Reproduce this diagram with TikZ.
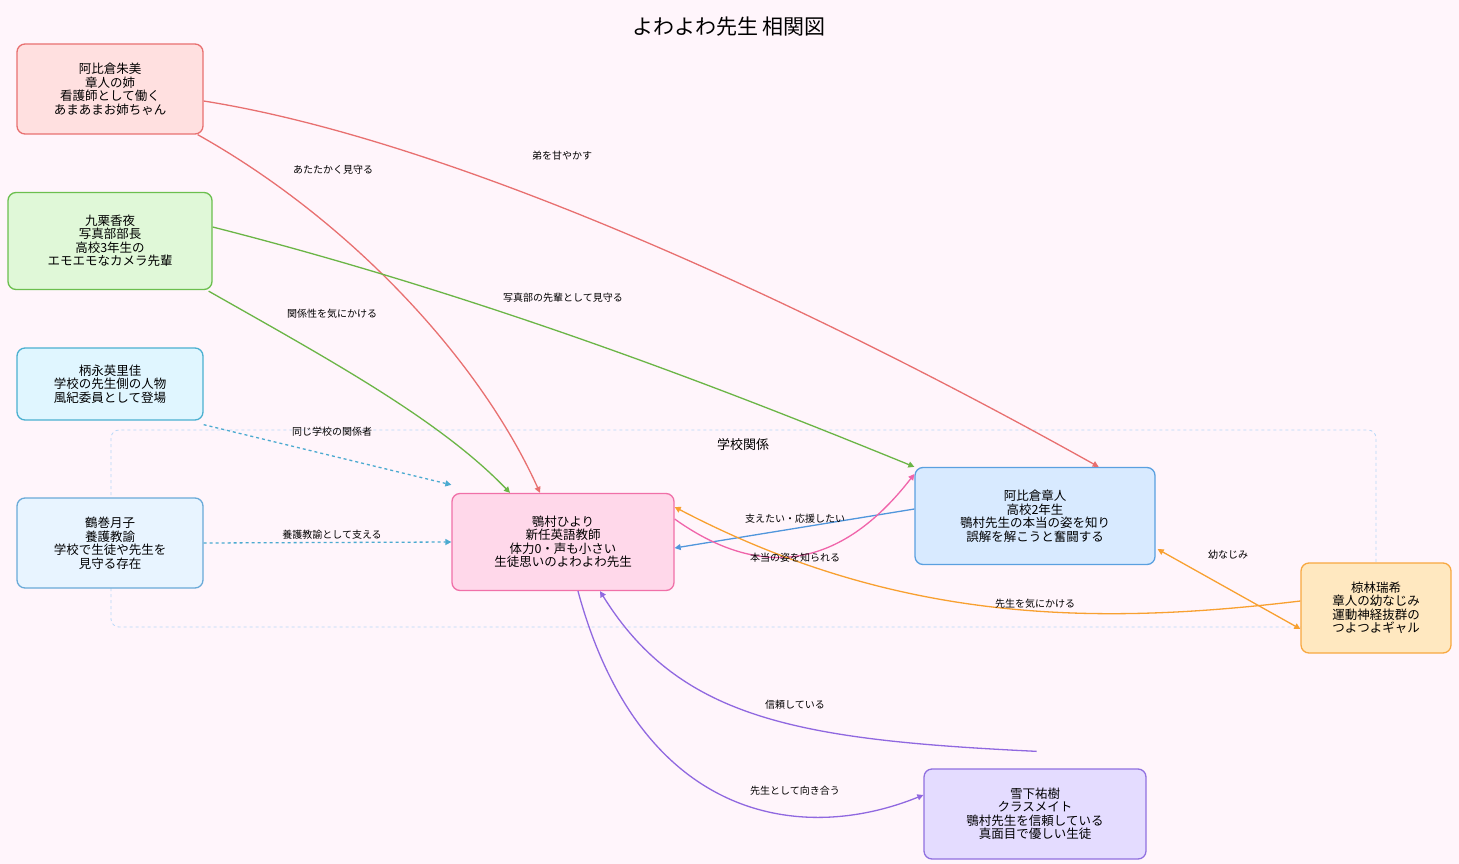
\documentclass[tikz,border=0pt]{standalone}
\usepackage{fontspec}
\setmainfont{Noto Sans CJK JP}
\usetikzlibrary{arrows.meta}
\definecolor{bg}{HTML}{FFF5FB}
\begin{document}
\begin{tikzpicture}[x=1pt,y=-1pt,
  box/.style={draw, rounded corners=8pt, line width=1.3pt, align=center, font=\fontsize{12.5}{13.5}\selectfont, inner sep=2pt},
  rel/.style={line width=1.3pt, -{Triangle[length=6pt,width=6pt]}},
  lab/.style={font=\fontsize{10}{11}\selectfont, text=black}]
\fill[bg] (0,0) rectangle (1459,864);
\useasboundingbox (0,0) rectangle (1459,864);
\node[font=\fontsize{21}{23}\selectfont] (title) at (729,27) {よわよわ先生\ 相関図};
\draw[dashed, color={rgb,255:red,184;green,216;blue,248}, line width=0.8pt, rounded corners=8pt] (111,430) rectangle (1376,627);
\node[font=\fontsize{13}{14}\selectfont] (cl) at (743,445) {学校関係};
\node[box, fill={rgb,255:red,255;green,224;blue,224}, draw={rgb,255:red,232;green,112;blue,112}, minimum width=186pt, minimum height=90pt] (asami) at (110,89) {阿比倉朱美\\章人の姉\\看護師として働く\\あまあまお姉ちゃん};
\node[box, fill={rgb,255:red,224;green,248;blue,216}, draw={rgb,255:red,107;green,191;blue,78}, minimum width=204pt, minimum height=97pt] (kuri) at (110,241) {九栗香夜\\写真部部長\\高校3年生の\\エモエモなカメラ先輩};
\node[box, fill={rgb,255:red,224;green,246;blue,255}, draw={rgb,255:red,75;green,176;blue,208}, minimum width=186pt, minimum height=72pt] (tsuka) at (110,384) {柄永英里佳\\学校の先生側の人物\\風紀委員として登場};
\node[box, fill={rgb,255:red,232;green,244;blue,255}, draw={rgb,255:red,106;green,170;blue,216}, minimum width=186pt, minimum height=90pt] (tsuru) at (110,543) {鶴巻月子\\養護教諭\\学校で生徒や先生を\\見守る存在};
\node[box, fill={rgb,255:red,255;green,216;blue,234}, draw={rgb,255:red,240;green,112;blue,168}, minimum width=222pt, minimum height=97pt] (hiyori) at (563,542) {鶚村ひより\\新任英語教師\\体力0・声も小さい\\生徒思いのよわよわ先生};
\node[box, fill={rgb,255:red,216;green,234;blue,255}, draw={rgb,255:red,90;green,160;blue,224}, minimum width=240pt, minimum height=97pt] (akito) at (1035,516) {阿比倉章人\\高校2年生\\鶚村先生の本当の姿を知り\\誤解を解こうと奮闘する};
\node[box, fill={rgb,255:red,255;green,232;blue,192}, draw={rgb,255:red,248;green,168;blue,64}, minimum width=150pt, minimum height=90pt] (mizuki) at (1376,608) {椋林瑞希\\章人の幼なじみ\\運動神経抜群の\\つよつよギャル};
\node[box, fill={rgb,255:red,228;green,220;blue,255}, draw={rgb,255:red,144;green,112;blue,224}, minimum width=222pt, minimum height=90pt] (yuki) at (1035,814) {雪下祐樹\\クラスメイト\\鶚村先生を信頼している\\真面目で優しい生徒};
\colorlet{cr}{rgb,255:red,232;green,112;blue,112}
\colorlet{cg}{rgb,255:red,107;green,181;blue,70}
\colorlet{cb}{rgb,255:red,75;green,170;blue,208}
\colorlet{co}{rgb,255:red,248;green,160;blue,48}
\colorlet{cp}{rgb,255:red,144;green,104;blue,224}
\draw[rel, cr] (asami.south east) ++(-6,0) .. controls (350,220) and (480,360) .. (hiyori.north west -| 540,0) coordinate (x) {};
\draw[rel, cr] (asami.east) ++(0,12) .. controls (450,140) and (800,300) .. ([xshift=-57pt]akito.north east);
\draw[rel, cg] ([xshift=-4pt,yshift=-1pt]kuri.south east) .. controls (330,360) and (440,420) .. ([xshift=-53pt]hiyori.north);
\draw[rel, cg] ([yshift=14pt]kuri.east) .. controls (500,300) and (750,400) .. (akito.north west);
\draw[rel, cb, dashed] ([yshift=-4pt]tsuka.south east) -- ([yshift=8pt]hiyori.north west);
\draw[rel, cb, dashed] (tsuru.east) -- (hiyori.west);
\draw[rel, color={rgb,255:red,80;green,150;blue,220}] ([yshift=7pt]akito.west) -- ([yshift=-6pt]hiyori.east);
\draw[rel, color={rgb,255:red,240;green,100;blue,170}] ([yshift=23pt]hiyori.east) .. controls (760,580) and (840,570) .. ([yshift=42pt]akito.west);
\draw[line width=1.3pt, co, {Triangle[length=6pt,width=6pt]}-{Triangle[length=6pt,width=6pt]}] (akito.south east) ++(2,-16) -- ([yshift=-21pt]mizuki.west);
\draw[rel, co] ([yshift=7pt]mizuki.west) .. controls (1100,625) and (900,625) .. ([yshift=35pt]hiyori.east);
\draw[rel, cp] ([xshift=-110pt,yshift=17pt]yuki.north east) ++(0,0) .. controls (800,740) and (680,720) .. ([xshift=37pt]hiyori.south);
\draw[rel, cp] ([xshift=15pt]hiyori.south) .. controls (640,820) and (800,845) .. ([yshift=19pt]yuki.west);
\node[lab] (l1) at (333,170) {あたたかく見守る};
\node[lab] (l2) at (562,156) {弟を甘やかす};
\node[lab] (l3) at (332,314) {関係性を気にかける};
\node[lab] (l4) at (563,298) {写真部の先輩として見守る};
\node[lab] (l5) at (332,432) {同じ学校の関係者};
\node[lab] (l6) at (332,535) {養護教諭として支える};
\node[lab] (l7) at (795,519) {支えたい・応援したい};
\node[lab] (l8) at (795,558) {本当の姿を知られる};
\node[lab] (l9) at (1228,555) {幼なじみ};
\node[lab] (l10) at (1035,604) {先生を気にかける};
\node[lab] (l11) at (795,705) {信頼している};
\node[lab] (l12) at (795,791) {先生として向き合う};
\end{tikzpicture}
\end{document}
